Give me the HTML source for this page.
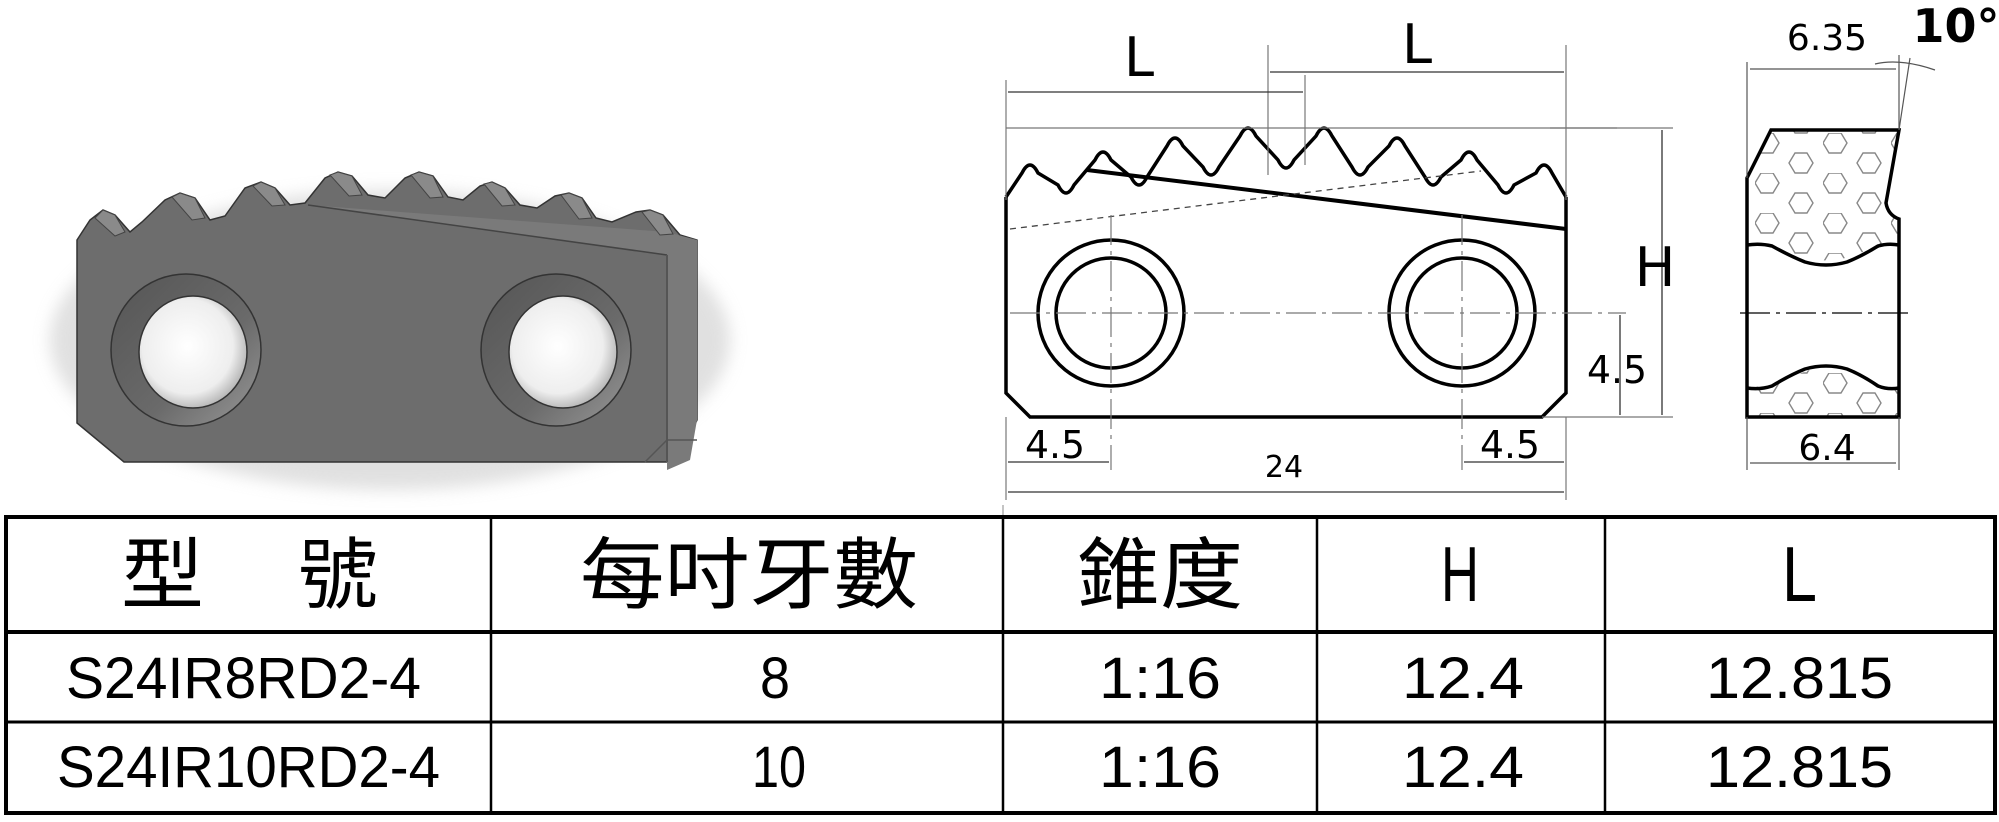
<!DOCTYPE html>
<html><head><meta charset="utf-8"><style>
html,body{margin:0;padding:0;background:#fff;}
svg{display:block}
</style></head><body>
<svg width="1999" height="822" viewBox="0 0 1999 822" xmlns="http://www.w3.org/2000/svg">
<defs>
<radialGradient id="hole" cx="0.45" cy="0.45" r="0.6"><stop offset="0" stop-color="#fff"/><stop offset="0.7" stop-color="#eee"/><stop offset="1" stop-color="#aaa"/></radialGradient>
<linearGradient id="ring" x1="0" y1="0" x2="1" y2="1"><stop offset="0" stop-color="#555"/><stop offset="0.6" stop-color="#6a6a6a"/><stop offset="1" stop-color="#999"/></linearGradient>
<filter id="sh" x="-10%" y="-10%" width="120%" height="130%"><feGaussianBlur stdDeviation="8"/></filter>
<pattern id="hex" width="68" height="40" patternUnits="userSpaceOnUse" x="1755" y="133">
<g fill="none" stroke="#888" stroke-width="1.4">
<polygon points="0,10 6,0 18,0 24,10 18,20 6,20"/>
<polygon points="34,30 40,20 52,20 58,30 52,40 40,40"/>
<polygon points="34,-10 40,-20 52,-20 58,-10 52,0 40,0"/>
</g></pattern>
</defs>

<!-- photo -->
<ellipse cx="390" cy="340" rx="340" ry="150" fill="#ccc" filter="url(#sh)" opacity="0.6"/>
<path d="M77,240 L90,220 L103,210 L115,215 L130,232 L142,222 L165,200 L180,193 L195,198 L210,220 L225,216 L245,188 L261,182 L275,188 L290,205 L305,203 L325,178 L338,172 L352,176 L368,195 L385,198 L405,178 L419,172 L433,176 L448,197 L463,200 L480,186 L492,182 L505,188 L520,205 L537,208 L555,196 L569,193 L582,198 L596,218 L612,222 L636,212 L650,210 L663,215 L680,235 L697,240 L697,420 L677,462 L124,462 L77,423 Z" fill="#6d6d6d" stroke="#333" stroke-width="1.5"/>
<path d="M308,205 L667,255 L667,470 L690,460 L697,420 L697,240 L667,232 Z" fill="#7a7a7a"/>
<path d="M308,205 L667,255" stroke="#444" stroke-width="1.5"/>
<path d="M667,255 L667,462" stroke="#555" stroke-width="2"/>
<path d="M645,462 L667,440 L697,440" fill="none" stroke="#555" stroke-width="1.5"/>
<g fill="#8a8a8a" stroke="#444" stroke-width="1">
<path d="M95,218 L103,210 L115,215 L125,232 L115,236 Z"/><path d="M172,197 L180,193 L195,198 L205,218 L192,220 Z"/>
<path d="M253,186 L261,182 L275,188 L285,205 L272,206 Z"/><path d="M330,175 L338,172 L352,176 L362,195 L349,196 Z"/>
<path d="M411,175 L419,172 L433,176 L443,197 L430,198 Z"/><path d="M484,184 L492,182 L505,188 L515,205 L502,206 Z"/>
<path d="M561,195 L569,193 L582,198 L592,218 L579,219 Z"/><path d="M642,212 L650,210 L663,215 L673,234 L660,235 Z"/>
</g>
<ellipse cx="186" cy="350" rx="75" ry="76" fill="url(#ring)" stroke="#333" stroke-width="1.5"/>
<ellipse cx="193" cy="352" rx="54" ry="56" fill="url(#hole)" stroke="#333" stroke-width="1.5"/>
<ellipse cx="556" cy="350" rx="75" ry="76" fill="url(#ring)" stroke="#333" stroke-width="1.5"/>
<ellipse cx="563" cy="352" rx="54" ry="56" fill="url(#hole)" stroke="#333" stroke-width="1.5"/>

<!-- front view -->
<g fill="none" stroke="#000">
<path d="M1006,197 L1006,393 L1030,417 L1542,417 L1566,393 L1566,197" stroke-width="3.5"/>
<path d="M1006,197 L1022,173 Q1030,157 1038,173 L1058,185 Q1066,201 1074,185 L1095,160 Q1103,144 1111,160 L1131,177 Q1139,193 1147,177 L1167,146 Q1175,130 1183,146 L1203,167 Q1211,183 1219,167 L1240,136 Q1248,120 1256,136 L1278,160 Q1286,176 1294,160 L1316,136 Q1324,120 1332,136 L1352,167 Q1360,183 1368,167 L1389,146 Q1397,130 1405,146 L1425,177 Q1433,193 1441,177 L1461,160 Q1469,144 1477,160 L1498,185 Q1506,201 1514,185 L1536,173 Q1544,157 1552,173 L1566,197" stroke-width="3.5"/>
<line x1="1087" y1="170" x2="1566" y2="229" stroke-width="4"/>
<line x1="1010" y1="229" x2="1481" y2="171" stroke-width="1.3" stroke-dasharray="6,5" stroke="#444"/>
<circle cx="1111" cy="313" r="73" stroke-width="3.5"/>
<circle cx="1111" cy="313" r="55" stroke-width="3.5"/>
<circle cx="1462" cy="313" r="73" stroke-width="3.5"/>
<circle cx="1462" cy="313" r="55" stroke-width="3.5"/>
<g stroke="#777" stroke-width="1.2">
<line x1="1010" y1="313" x2="1626" y2="313" stroke-dasharray="30,6,4,6"/>
<line x1="1111" y1="215" x2="1111" y2="470" stroke-dasharray="30,6,4,6"/>
<line x1="1462" y1="215" x2="1462" y2="470" stroke-dasharray="30,6,4,6"/>
<line x1="1006" y1="128" x2="1617" y2="128"/><line x1="1550" y1="128" x2="1673" y2="128"/>
<line x1="1542" y1="417" x2="1673" y2="417"/>
<line x1="1006" y1="80" x2="1006" y2="200"/><line x1="1268" y1="45" x2="1268" y2="175"/>
<line x1="1305" y1="75" x2="1305" y2="165"/><line x1="1566" y1="45" x2="1566" y2="200"/>
<line x1="1006" y1="417" x2="1006" y2="500"/><line x1="1566" y1="417" x2="1566" y2="500"/>
</g>
<g stroke="#333" stroke-width="1.3">
<line x1="1008" y1="92" x2="1303" y2="92"/><line x1="1270" y1="72" x2="1564" y2="72"/>
<line x1="1662" y1="130" x2="1662" y2="415"/><line x1="1620" y1="315" x2="1620" y2="415"/>
<line x1="1008" y1="462" x2="1109" y2="462"/><line x1="1464" y1="462" x2="1564" y2="462"/>
<line x1="1008" y1="492" x2="1564" y2="492"/>
</g>
</g>
<g font-family="DejaVu Sans, Liberation Sans, sans-serif" fill="#000" text-anchor="middle">
<text x="1139" y="76" font-size="54">L</text>
<text x="1417" y="63" font-size="54">L</text>
<text x="1655" y="286" font-size="54">H</text>
<text x="1617" y="383" font-size="38" textLength="60" lengthAdjust="spacingAndGlyphs">4.5</text>
<text x="1055" y="458" font-size="38" textLength="60" lengthAdjust="spacingAndGlyphs">4.5</text>
<text x="1510" y="458" font-size="38" textLength="60" lengthAdjust="spacingAndGlyphs">4.5</text>
<text x="1284" y="477" font-size="30">24</text>
<text x="1827" y="50" font-size="36">6.35</text>
<text x="1827" y="460" font-size="36">6.4</text>
<text x="1956" y="42" font-size="46" font-weight="bold">10°</text>
</g>

<!-- side view -->
<path d="M1771,130 L1899,130 L1886,203 Q1888,215 1899,219 L1899,245 Q1870,248 1855,255 Q1826,266 1797,255 Q1782,248 1747,245 L1747,178 Z" fill="url(#hex)"/>
<path d="M1747,388 Q1780,385 1797,375 Q1826,360 1855,375 Q1870,385 1899,388 L1899,417 L1747,417 Z" fill="url(#hex)"/>
<g fill="none" stroke="#000" stroke-width="3.5">
<path d="M1771,130 L1899,130 L1886,203 Q1888,215 1899,219 L1899,417 L1747,417 L1747,178 Z"/>
<path d="M1747,245 Q1760,243 1772,246 Q1790,256 1805,262 Q1826,268 1847,262 Q1862,256 1878,246 Q1888,243 1899,245"/>
<path d="M1747,388 Q1760,390 1772,386 Q1790,375 1805,369 Q1826,363 1847,369 Q1862,375 1878,386 Q1888,390 1899,388"/>
</g>
<g stroke="#555" stroke-width="1.2" fill="none">
<line x1="1740" y1="313" x2="1910" y2="313" stroke-dasharray="30,6,4,6" stroke="#000"/>
<line x1="1747" y1="62" x2="1747" y2="178"/><line x1="1899" y1="55" x2="1899" y2="130"/>
<line x1="1750" y1="69" x2="1896" y2="69"/><line x1="1899" y1="130" x2="1910" y2="58"/>
<path d="M1875,64 Q1900,58 1935,70"/>
<line x1="1747" y1="417" x2="1747" y2="470"/><line x1="1899" y1="417" x2="1899" y2="470"/>
<line x1="1750" y1="463" x2="1896" y2="463"/>
</g>

<!-- table -->
<g stroke="#000" fill="none">
<line x1="1003" y1="505" x2="1003" y2="515" stroke-width="1" stroke="#888"/>
<rect x="6" y="517" width="1989" height="296" stroke-width="4"/>
<line x1="6" y1="632" x2="1995" y2="632" stroke-width="4"/>
<line x1="6" y1="722" x2="1995" y2="722" stroke-width="3"/>
<line x1="491" y1="517" x2="491" y2="813" stroke-width="2.5"/>
<line x1="1003" y1="517" x2="1003" y2="813" stroke-width="2.5"/>
<line x1="1317" y1="517" x2="1317" y2="813" stroke-width="2.5"/>
<line x1="1605" y1="517" x2="1605" y2="813" stroke-width="2.5"/>
</g>
<g font-family="Liberation Sans, 'Noto Sans CJK TC', sans-serif" fill="#000">
<text x="121" y="602" font-size="78" textLength="83" lengthAdjust="spacingAndGlyphs">型</text>
<text x="298" y="602" font-size="78" textLength="80" lengthAdjust="spacingAndGlyphs">號</text>
<text x="580" y="602" font-size="78" textLength="338" lengthAdjust="spacingAndGlyphs">每吋牙數</text>
<text x="1077" y="602" font-size="78" textLength="166" lengthAdjust="spacingAndGlyphs">錐度</text>
<text x="1441" y="601" font-size="78" textLength="38" lengthAdjust="spacingAndGlyphs">H</text>
<text x="1782" y="601" font-size="78" textLength="35" lengthAdjust="spacingAndGlyphs">L</text>
<text x="66" y="698" font-size="58" textLength="355" lengthAdjust="spacingAndGlyphs">S24IR8RD2-4</text>
<text x="760" y="698" font-size="58" textLength="30" lengthAdjust="spacingAndGlyphs">8</text>
<text x="1099" y="698" font-size="58" textLength="122" lengthAdjust="spacingAndGlyphs">1:16</text>
<text x="1402" y="698" font-size="58" textLength="122" lengthAdjust="spacingAndGlyphs">12.4</text>
<text x="1706" y="698" font-size="58" textLength="187" lengthAdjust="spacingAndGlyphs">12.815</text>
<text x="57" y="787" font-size="58" textLength="383" lengthAdjust="spacingAndGlyphs">S24IR10RD2-4</text>
<text x="752" y="787" font-size="58" textLength="54" lengthAdjust="spacingAndGlyphs">10</text>
<text x="1099" y="787" font-size="58" textLength="122" lengthAdjust="spacingAndGlyphs">1:16</text>
<text x="1402" y="787" font-size="58" textLength="122" lengthAdjust="spacingAndGlyphs">12.4</text>
<text x="1706" y="787" font-size="58" textLength="187" lengthAdjust="spacingAndGlyphs">12.815</text>
</g>
</svg>
</body></html>
